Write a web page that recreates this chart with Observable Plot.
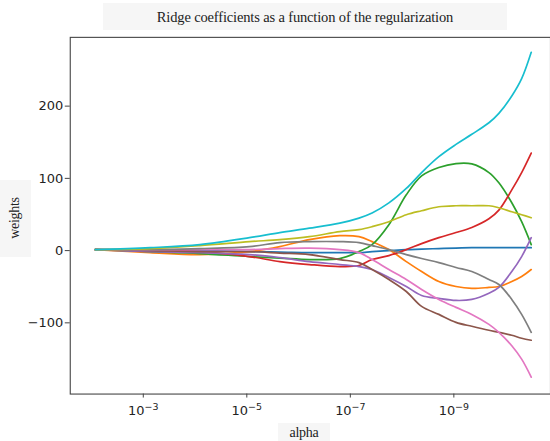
<!DOCTYPE html>
<html>
<head>
<meta charset="utf-8">
<script src="https://cdn.jsdelivr.net/npm/d3@7"></script>
<script src="https://cdn.jsdelivr.net/npm/@observablehq/plot@0.6"></script>
<style>
  html, body { margin: 0; padding: 0; background: #fff; width: 550px; height: 441px; overflow: hidden; }
  #wrap { position: relative; width: 550px; height: 441px; }
  .lab { position: absolute; font-family: "Liberation Serif", "DejaVu Serif", serif; color: #222; background: #f6f6f6; white-space: nowrap; }
  #title { left: 103px; top: 3px; width: 404px; height: 27px; line-height: 28px; text-align: center; font-size: 14.5px; letter-spacing: -0.15px; }
  #xlab { left: 278px; top: 423px; width: 52px; height: 18px; line-height: 20px; text-align: center; font-size: 14px; letter-spacing: -0.3px; }
  #ylab { left: 0px; top: 180px; width: 31px; height: 77px; }
  #ylab span { position: absolute; left: 15px; top: 38px; transform: translate(-50%, -50%) rotate(-90deg); font-size: 14px; letter-spacing: -0.3px; }
  svg { position: absolute; left: 0; top: 0; }
  svg text { font-family: "DejaVu Sans", sans-serif; }
</style>
</head>
<body>
<div id="wrap"></div>
<script>
const alphas = [8.5e-3, 7.4e-4, 8.1e-5, 8.9e-6, 2.3e-6, 6.2e-7, 1.6e-7, 6.8e-8, 3.8e-8, 1.8e-8,
                8.3e-9, 4.2e-9, 1.95e-9, 9.1e-10, 4.5e-10, 2.1e-10, 1.35e-10, 7.6e-11, 4.9e-11, 3.2e-11];

// coefficient paths (one per feature)
const coef0 = [1.4, 0.7, 0, -1.4, -2, -2.8, -2.8, -2.8, -1.4, 0, 1.4, 2, 2.8, 3.4, 4, 4, 4, 4, 4, 4];
const coef1 = [1.4, -2.8, -5.5, -1.4, 5.5, 15.2, 20.7, 19.3, 12.4, 1.4, -15.2, -29, -42.8, -49.7, -52.4, -51, -49.7, -42.8, -35.9, -26.2];
const coef2 = [1.4, -1.4, -4.1, -8.3, -10.3, -12.4, -11, -1.4, 8.3, 35.9, 77.2, 103.4, 115, 120.5, 120, 108, 93.8, 66.2, 40, 8.3];
const coef3 = [1.4, 0, -1.4, -8.3, -15.2, -19.3, -22.1, -20.7, -12.4, -6.9, 1.4, 9.7, 18, 25, 32, 44, 56, 84, 108, 135];
const coef4 = [1.4, -1.4, -2.8, -5.5, -9.7, -15.2, -19.3, -22.1, -26.2, -37.2, -49.7, -62.1, -66.2, -69, -67.6, -59, -51, -29, -8.3, 17.9];
const coef5 = [1.4, 0, -1.4, -1.4, -3.4, -5.5, -12.4, -16.6, -26.2, -40, -56.6, -77.2, -88.3, -99.3, -104.8, -110.3, -113.1, -117.2, -121.4, -124.1];
const coef6 = [1.4, 1.4, 1.4, 1.4, 2.8, 3.4, 1.4, -2.8, -12.4, -26.2, -40, -53.8, -67.6, -78.6, -88.3, -102.1, -113.1, -131.7, -150.3, -175.2];
const coef7 = [1.4, 1.4, 2.8, 5.5, 11, 12.4, 12.4, 11, 6.9, 1.4, -5.5, -11, -16.6, -23.4, -29, -40, -46.9, -67.6, -88.3, -113.1];
const coef8 = [1.4, 2.8, 6.9, 12.4, 15.2, 19.3, 26.2, 29, 33.1, 40, 49.7, 55.2, 60.7, 62.1, 62.1, 62.1, 59.3, 53.8, 49.7, 45.5];
const coef9 = [1.4, 4.1, 8.3, 17.9, 25, 31, 38, 45, 52, 66, 86, 108, 130, 147, 161, 177, 190, 214, 238, 274.5];

const series = [coef0, coef1, coef2, coef3, coef4, coef5, coef6, coef7, coef8, coef9];
const colors = ["#1f77b4", "#ff7f0e", "#2ca02c", "#d62728", "#9467bd", "#8c564b", "#e377c2", "#7f7f7f", "#bcbd22", "#17becf"];

const xTicks = [1e-3, 1e-5, 1e-7, 1e-9];
const xTickBase = "10";
const xTickExps = ["\u22123", "\u22125", "\u22127", "\u22129"];
const yTicks = [-100, 0, 100, 200];
const yTickLabels = ["\u2212100", "0", "100", "200"];

const titleText = "Ridge coefficients as a function of the regularization";
const xLabelText = "alpha";
const yLabelText = "weights";

const data = [];
series.forEach((vals, k) => vals.forEach((v, i) => data.push({alpha: alphas[i], w: v, k})));

const plot = Plot.plot({
  width: 552,
  height: 441,
  marginLeft: 70,
  marginRight: 0,
  marginTop: 37,
  marginBottom: 46,
  style: {fontSize: "13px", color: "#222", background: "transparent", overflow: "visible"},
  x: {type: "log", domain: [10 ** -1.589, 10 ** -10.867], label: null},
  y: {domain: [-198.6, 295.2], label: null},
  color: {domain: d3.range(10), range: colors},
  marks: [
    Plot.line(data, {x: "alpha", y: "w", z: "k", stroke: "k", strokeWidth: 1.7, curve: "catmull-rom"}),
    Plot.axisX({ticks: xTicks, tickFormat: (d) => xTickBase + "|" + xTickExps[xTicks.findIndex((t) => Math.abs(Math.log10(t) - Math.log10(d)) < 1e-6)], tickSize: 4, tickPadding: 8, fontSize: 13, stroke: "#444", label: null}),
    Plot.axisY({ticks: yTicks, tickFormat: (d) => yTickLabels[yTicks.indexOf(d)], tickSize: 5, tickPadding: 2, fontSize: 13, stroke: "#444", label: null}),
    Plot.frame({stroke: "#444", strokeWidth: 1.1})
  ]
});

// render 10^-n with a raised superscript exponent
d3.select(plot).selectAll("[aria-label='x-axis tick label'] text").each(function () {
  const s = this.textContent;
  if (!s.includes("|")) return;
  const [b, e] = s.split("|");
  const sel = d3.select(this);
  sel.text(null);
  sel.append("tspan").text(b);
  sel.append("tspan").attr("dy", "-0.5em").attr("font-size", "9.5px").text(e);
});

const wrap = document.getElementById("wrap");
wrap.appendChild(plot);

const t = document.createElement("div"); t.className = "lab"; t.id = "title"; t.textContent = titleText; wrap.appendChild(t);
const xl = document.createElement("div"); xl.className = "lab"; xl.id = "xlab"; xl.textContent = xLabelText; wrap.appendChild(xl);
const yl = document.createElement("div"); yl.className = "lab"; yl.id = "ylab";
const ys = document.createElement("span"); ys.textContent = yLabelText; yl.appendChild(ys); wrap.appendChild(yl);
</script>
</body>
</html>
